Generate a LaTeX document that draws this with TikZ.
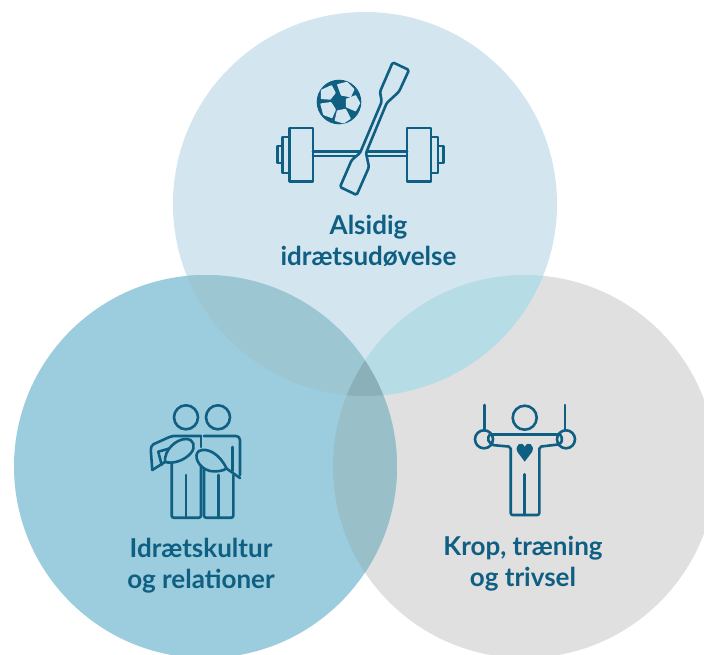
\documentclass[tikz,border=0pt]{standalone}
\usepackage{fontspec}
\setmainfont{Lato}
\definecolor{cTop}{HTML}{D3E5EF}
\definecolor{cLeft}{HTML}{9CCDDE}
\definecolor{cRight}{HTML}{E0E0E0}
\definecolor{cTL}{HTML}{9DC6D3}
\definecolor{cTR}{HTML}{B6DCE5}
\definecolor{cLR}{HTML}{99BFC9}
\definecolor{cAll}{HTML}{8CB0B9}
\definecolor{ink}{HTML}{0F5F82}
\tikzset{
  x=1pt,y=-1pt,
  lbl/.style={text=ink,font=\fontsize{26}{31}\selectfont\bfseries,align=center,inner sep=0pt},
  icon/.style={draw=ink,line width=2.6pt,line join=round,line cap=round}
}
\newcommand{\ctop}{(365,204) circle[radius=192]}
\newcommand{\cleft}{(205.5,466.5) circle[radius=191.5]}
\newcommand{\cright}{(524.5,466.5) circle[radius=191.5]}
\begin{document}
\begin{tikzpicture}
\useasboundingbox (0,0) rectangle (704,654);
\clip (0,0) rectangle (704,654);
\fill[white] (0,0) rectangle (704,654);
\fill[cTop] \ctop;
\fill[cRight] \cright;
\fill[cLeft] \cleft;
\begin{scope}\clip \ctop; \fill[cTL] \cleft; \fill[cTR] \cright; \end{scope}
\begin{scope}\clip \cleft; \fill[cLR] \cright; \end{scope}
\begin{scope}\clip \ctop; \clip \cleft; \fill[cAll] \cright; \end{scope}
% labels
\node[lbl] (t1) at (368.5,240.5) {Alsidig\\idrætsudøvelse};
\node[lbl] (t2) at (201,566) {Idrætskultur\\og relationer};
\node[lbl] (t3) at (523,564) {Krop, træning\\og trivsel};
% barbell + paddle + ball
\begin{scope}[icon]
\draw (289.5,128) rectangle (313,181.5);
\draw (407,128) rectangle (431,181.5);
\draw (289.5,137) -- (282.5,137) -- (282.5,173) -- (289.5,173);
\draw (431,137) -- (438,137) -- (438,173) -- (431,173);
\draw (282.5,146) -- (277.5,146) -- (277.5,163) -- (282.5,163);
\draw (438,146) -- (443.5,146) -- (443.5,163) -- (438,163);
\draw (313,151.5) -- (407,151.5);
\draw (313,156) -- (407,156);
\draw[fill=cTop,rounded corners=1.5pt] (392.7,62.3) -- (409,70) -- (399,91.7) -- (386.7,103) -- (366,153) -- (369,167) -- (356.7,195) -- (340,187) -- (351.7,160) -- (360,153) -- (381.7,101.7) -- (380,91.7) -- cycle;
\end{scope}
\fill[ink] (339,102) circle[radius=22.3];
\begin{scope}[fill=cTop,rounded corners=0.6pt]
\fill (320.8,90) -- (331.7,85) -- (335.8,93) -- (330.4,99.7) -- (320.8,99) -- cycle;
\fill (336.9,84.3) -- (347.2,81.7) -- (354.6,89.3) -- (350.8,97.3) -- (341,95.6) -- cycle;
\fill (345.8,98.9) -- (355.8,95) -- (360.3,103) -- (355.8,111.5) -- (345.8,107.2) -- cycle;
\fill (336.9,110.5) -- (345.8,108.7) -- (351,118.7) -- (343.6,123.6) -- (334.6,120.8) -- cycle;
\fill (320.2,103.5) -- (331.2,102) -- (336,109.5) -- (332.2,118.3) -- (323.2,115) -- cycle;
\end{scope}
% two friends
\begin{scope}[icon]
\draw (186,417.3) circle[radius=12];
\draw (218,417.3) circle[radius=12];
\draw[rounded corners=2pt] (201,436) -- (171.7,436) -- (151.7,445) -- (150.7,449) -- (152.3,470);
\draw (158.3,451.7) -- (171,448);
\draw (158.3,451.7) -- (161.7,465);
\draw[rounded corners=2pt] (171.7,460) -- (171.7,517.7) -- (201,517.7) -- (201,464);
\draw (186,475) -- (186,517.7);
\draw (201,436) -- (201,447);
\draw[rounded corners=2pt] (204,468) -- (204,517.7) -- (233.3,517.7) -- (233.3,475);
\draw (218.3,475) -- (218.3,517.7);
\draw[rounded corners=4pt] (204,436) -- (240,436) -- (240,475);
\draw (232.7,447) -- (232.7,471);
\draw[fill=cLeft] (165,462) .. controls (164,450) and (176,439) .. (186,439) .. controls (194,439) and (196,447) .. (191,453) .. controls (184,461) and (173,464) .. (165,462);
\draw (165,462) -- (152.3,470);
\draw[fill=cLeft] (226.5,468.5) .. controls (220,454) and (207,447) .. (199,451) .. controls (193,455) and (198,468) .. (210,471) .. controls (217,472) and (223,471) .. (226.5,468.5);
\draw (226.5,468.5) -- (240,478);
\end{scope}
% gymnast
\begin{scope}[icon]
\draw (524.7,417.7) circle[radius=12];
\draw (484.3,405) -- (484.3,430);
\draw (565,405) -- (565,430);
\draw (484,439.3) circle[radius=9];
\draw (566,439.3) circle[radius=9];
\draw (490,434.3) -- (560,434.3);
\draw[rounded corners=2pt] (490,434.3) -- (487.3,439) -- (491.7,445) -- (510.7,446.7) -- (510.7,515) -- (539.3,515) -- (539.3,446.7) -- (560,444.3) -- (562.7,439.3) -- (560,434.3);
\draw (524.7,474.3) -- (524.7,515);
\end{scope}
\fill[ink] (524.7,461.7) -- (517.5,452) .. controls (514,445) and (522,440) .. (524.7,447) .. controls (527.5,440) and (535.5,445) .. (532,452) -- cycle;
\end{tikzpicture}
\end{document}
